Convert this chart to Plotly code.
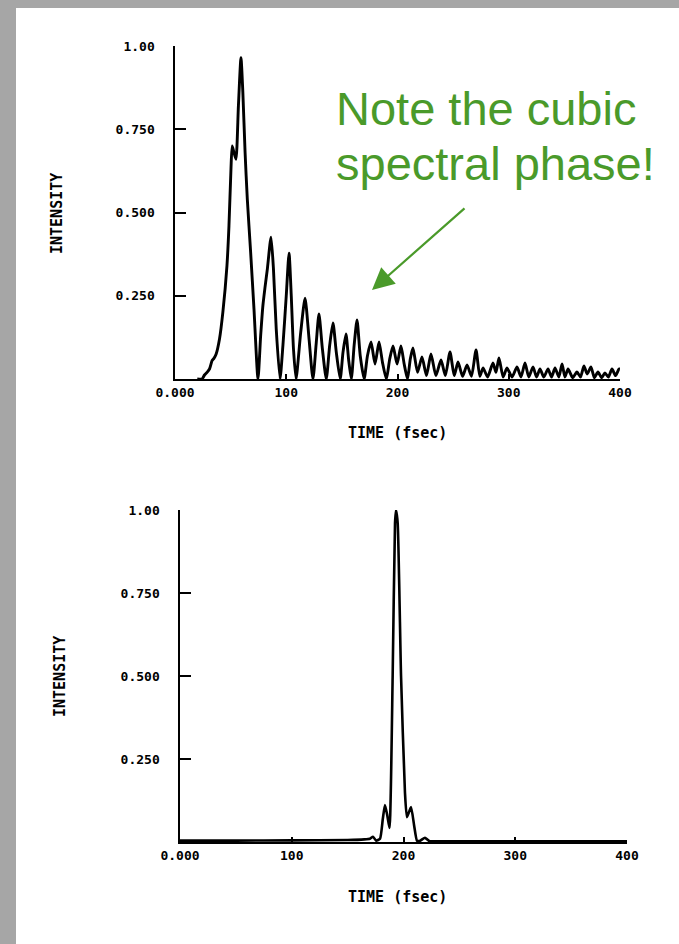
import plotly.graph_objects as go

W, H = 679, 944

# ---------------- data ----------------
top_time = [20, 24.3, 26.5, 28.8, 31, 33.3, 35, 37, 40, 43, 46.7, 48.5, 50.3, 51.4, 53, 54.8, 57, 59.3,
            61, 63, 65, 68, 71, 74.6, 77, 79, 80.9, 83, 86.3, 88.5, 91, 94.4, 97, 100, 102.5, 104.5,
            106.5, 108.8, 113, 116.9, 120.5, 124, 127, 129.4, 132.5, 136, 139, 142, 145, 148.5, 151,
            153.7, 156, 158.5, 161, 163.6, 166.5, 170, 173, 176.2, 179.8, 183.4, 186.5, 190, 193, 196,
            199.6, 203.1, 206, 209, 211.5, 213.9, 218, 222, 226, 230.1, 234.5, 239.1, 243, 247.2, 251,
            254.4, 258.5, 262.5, 266.5, 270.6, 274, 276.9, 281, 285.8, 288.5, 291.2, 295, 298.4, 303,
            307.4, 311, 314.6, 318, 321.8, 325, 328.1, 331.5, 335.3, 338.5, 341.6, 345, 347.9, 350.5,
            353.3, 357.5, 361.3, 364.5, 367.6, 370.5, 373.9, 377, 380.2, 383.5, 386.5, 389.5, 392.8,
            396, 399.1, 400]
top_intensity = [0.0, 0.0, 0.012, 0.02, 0.03, 0.055, 0.062, 0.075, 0.12, 0.2, 0.34, 0.46, 0.63, 0.70,
                 0.68, 0.66, 0.82, 0.965, 0.86, 0.68, 0.54, 0.38, 0.21, 0.0, 0.13, 0.22, 0.275, 0.33,
                 0.426, 0.33, 0.15, 0.0, 0.1, 0.25, 0.378, 0.25, 0.09, 0.0, 0.14, 0.243, 0.12, 0.0,
                 0.11, 0.195, 0.09, 0.0, 0.1, 0.168, 0.08, 0.0, 0.08, 0.135, 0.06, 0.0, 0.1, 0.177,
                 0.07, 0.0, 0.07, 0.111, 0.045, 0.111, 0.05, 0.0, 0.06, 0.099, 0.045, 0.099, 0.045,
                 0.0, 0.06, 0.093, 0.02, 0.066, 0.01, 0.075, 0.01, 0.057, 0.01, 0.081, 0.01, 0.051,
                 0.008, 0.042, 0.008, 0.087, 0.008, 0.033, 0.006, 0.048, 0.02, 0.063, 0.006, 0.033,
                 0.006, 0.036, 0.006, 0.048, 0.006, 0.036, 0.006, 0.03, 0.006, 0.03, 0.006, 0.033,
                 0.006, 0.045, 0.006, 0.03, 0.004, 0.021, 0.006, 0.039, 0.015, 0.036, 0.004, 0.021,
                 0.004, 0.018, 0.006, 0.03, 0.01, 0.03, 0.03]

bottom_time = [0, 50, 100, 150, 165, 170, 172.7, 175.5, 179, 181.5, 183.4, 185.5, 187.5, 190.3, 192.4,
               193.3, 194.8, 197.8, 201.3, 203.1, 206.7, 209.5, 212.1, 215, 219.2, 223, 240, 300, 400]
bottom_intensity = [0.004, 0.004, 0.005, 0.006, 0.008, 0.01, 0.016, 0.004, 0.01, 0.07, 0.111, 0.08,
                    0.042, 0.5, 0.96, 1.0, 0.96, 0.5, 0.15, 0.075, 0.105, 0.05, 0.004, 0.004, 0.013,
                    0.003, 0.002, 0.002, 0.002]

y_tick_vals = [0.25, 0.5, 0.75, 1.0]
y_tick_text = ["0.250", "0.500", "0.750", "1.00"]
x_tick_vals = [0, 100, 200, 300, 400]
x_tick_text = ["0.000", "100", "200", "300", "400"]

# ---------------- figure ----------------
def px_x(p):
    return p / W

def px_y(p):
    return 1 - p / H

NB = "\u00a0"

fig = go.Figure()
fig.add_trace(go.Scatter(x=top_time, y=top_intensity, mode="lines",
                         line=dict(color="black", width=2.9, shape="spline", smoothing=0.6),
                         xaxis="x", yaxis="y", showlegend=False, hoverinfo="skip"))
fig.add_trace(go.Scatter(x=bottom_time, y=bottom_intensity, mode="lines",
                         line=dict(color="black", width=2.6, shape="spline", smoothing=0.5),
                         xaxis="x2", yaxis="y2", showlegend=False, hoverinfo="skip"))

tick_font = dict(family="DejaVu Sans Mono", size=13, color="black", weight="bold")

xcommon = dict(range=[0, 400], showline=True, linecolor="black", linewidth=2, mirror=False,
               showgrid=False, zeroline=False, ticks="inside", ticklen=5, tickwidth=2,
               tickcolor="black", tickvals=x_tick_vals, ticktext=x_tick_text,
               tickfont=tick_font, automargin=False, fixedrange=True)
ycommon = dict(range=[0, 1], showline=True, linecolor="black", linewidth=2, mirror=False,
               showgrid=False, zeroline=False, ticks="inside", ticklen=11, tickwidth=2,
               tickcolor="black", tickvals=y_tick_vals,
               ticktext=[t + NB + NB for t in y_tick_text],
               tickfont=tick_font, automargin=False, fixedrange=True)

fig.update_layout(
    width=W, height=H,
    margin=dict(l=0, r=0, t=0, b=0, autoexpand=False),
    paper_bgcolor="white", plot_bgcolor="white",
    xaxis=dict(domain=[px_x(175), px_x(620)], anchor="y", **xcommon),
    yaxis=dict(domain=[px_y(379), px_y(46)], anchor="x", **ycommon),
    xaxis2=dict(domain=[px_x(180), px_x(627)], anchor="y2", **xcommon),
    yaxis2=dict(domain=[px_y(842), px_y(510)], anchor="x2", **ycommon),
)

# gray scan border
fig.add_shape(type="rect", xref="paper", yref="paper", x0=0, x1=px_x(16), y0=0, y1=1,
              fillcolor="#a6a6a6", line_width=0, layer="above")
fig.add_shape(type="rect", xref="paper", yref="paper", x0=0, x1=1, y0=px_y(8), y1=1,
              fillcolor="#a6a6a6", line_width=0, layer="above")

label_font = dict(family="DejaVu Sans Mono", size=15, color="black", weight="bold")
for (x, y) in [(57, 213), (60, 677)]:
    fig.add_annotation(text="INTENSITY", xref="paper", yref="paper", x=px_x(x), y=px_y(y),
                       showarrow=False, textangle=-90, font=label_font,
                       xanchor="center", yanchor="middle")
for (x, y) in [(397, 433), (397, 897)]:
    fig.add_annotation(text="TIME (fsec)", xref="paper", yref="paper", x=px_x(x), y=px_y(y),
                       showarrow=False, font=label_font, xanchor="center", yanchor="middle")

green = "#4a9a2a"
note_font = dict(family="Liberation Sans", size=47, color=green)
fig.add_annotation(text="Note the cubic", xref="paper", yref="paper", x=px_x(334), y=px_y(108),
                   showarrow=False, font=note_font, xanchor="left", yanchor="middle")
fig.add_annotation(text="spectral phase!", xref="paper", yref="paper", x=px_x(334), y=px_y(164),
                   showarrow=False, font=note_font, xanchor="left", yanchor="middle")
fig.add_annotation(text="", xref="paper", yref="paper", x=px_x(372), y=px_y(290),
                   ax=94, ay=-83, axref="pixel", ayref="pixel", showarrow=True,
                   arrowhead=2, arrowsize=2, arrowwidth=2.2, arrowcolor=green)

fig.write_html("out.html", config={"displayModeBar": False},
               post_script="document.body.style.margin='0';")
